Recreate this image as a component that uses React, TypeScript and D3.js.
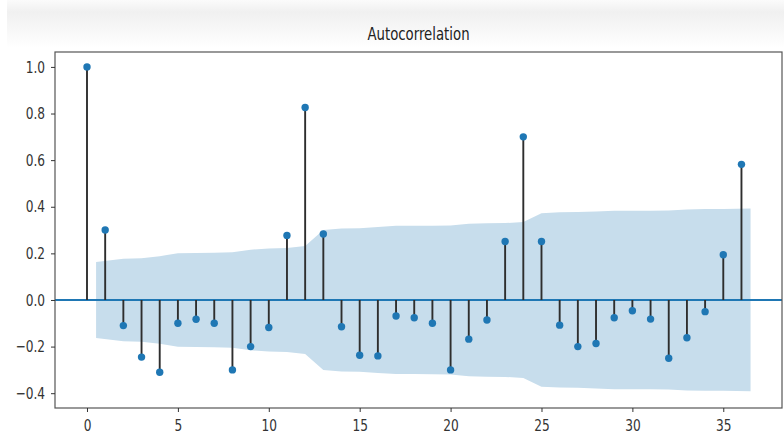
import React, { useRef, useEffect } from 'react';
import * as d3 from 'd3';

// autocorrelation at lags 0..36
const acfValues = [
  1.0, 0.3, -0.11, -0.245, -0.31, -0.1, -0.083, -0.1, -0.3, -0.2, -0.118, 0.277, 0.826,
  0.283, -0.115, -0.237, -0.24, -0.069, -0.076, -0.1, -0.3, -0.168, -0.086, 0.251, 0.7,
  0.251, -0.108, -0.2, -0.187, -0.076, -0.046, -0.082, -0.25, -0.162, -0.05, 0.194, 0.582,
];

// half-width of the confidence band at lags 1..36
const bandValues = [
  0.163, 0.177, 0.179, 0.188, 0.201, 0.202, 0.203, 0.205, 0.216, 0.221, 0.223, 0.232,
  0.3, 0.307, 0.308, 0.313, 0.318, 0.318, 0.319, 0.32, 0.327, 0.329, 0.33, 0.335, 0.372,
  0.376, 0.377, 0.38, 0.383, 0.383, 0.383, 0.384, 0.388, 0.39, 0.39, 0.392,
];

const xTicks = [0, 5, 10, 15, 20, 25, 30, 35];
const yTicks = [-0.4, -0.2, 0.0, 0.2, 0.4, 0.6, 0.8, 1.0];

const W = 784;
const H = 441;
const SQUEEZE = 0.76;

const App = () => {
  const svgRef = useRef<SVGSVGElement>(null);

  useEffect(() => {
    const svg = d3.select(svgRef.current);
    svg.selectAll('*').remove();

    const left = 55;
    const right = 782;
    const top = 52;
    const bottom = 408;

    const x = d3.scaleLinear().domain([-1.76, 38.23]).range([left, right]);
    const y = d3.scaleLinear().domain([-0.4635, 1.064]).range([bottom, top]);

    // faint grey strip at top of the screenshot
    const grad = svg
      .append('defs')
      .append('linearGradient')
      .attr('id', 'topfade')
      .attr('x1', 0)
      .attr('y1', 0)
      .attr('x2', 0)
      .attr('y2', 1);
    grad.append('stop').attr('offset', '0%').attr('stop-color', '#fbfbfb');
    grad.append('stop').attr('offset', '25%').attr('stop-color', '#f0f0f0');
    grad.append('stop').attr('offset', '100%').attr('stop-color', '#ffffff');
    svg
      .append('rect')
      .attr('x', 7)
      .attr('y', 0)
      .attr('width', W - 7)
      .attr('height', 48)
      .attr('fill', 'url(#topfade)');

    // confidence band
    const band = bandValues.map((v, i) => {
      let lag = i + 1;
      if (i === 0) lag -= 0.5;
      if (i === bandValues.length - 1) lag += 0.5;
      return { lag, v };
    });
    const area = d3
      .area<{ lag: number; v: number }>()
      .x((d) => x(d.lag))
      .y0((d) => y(-d.v))
      .y1((d) => y(d.v));
    svg.append('path').datum(band).attr('fill', '#c7ddec').attr('d', area);

    // zero line
    svg
      .append('line')
      .attr('x1', left)
      .attr('x2', right)
      .attr('y1', y(0))
      .attr('y2', y(0))
      .attr('stroke', '#1f77b4')
      .attr('stroke-width', 2);

    // stems
    svg
      .append('g')
      .selectAll('line')
      .data(acfValues)
      .join('line')
      .attr('x1', (d, i) => x(i))
      .attr('x2', (d, i) => x(i))
      .attr('y1', y(0))
      .attr('y2', (d) => y(d))
      .attr('stroke', '#2e2e2e')
      .attr('stroke-width', 1.9);

    svg
      .append('g')
      .selectAll('circle')
      .data(acfValues)
      .join('circle')
      .attr('cx', (d, i) => x(i))
      .attr('cy', (d) => y(d))
      .attr('r', 3.7)
      .attr('fill', '#1f77b4');

    // frame
    svg
      .append('rect')
      .attr('x', left)
      .attr('y', top)
      .attr('width', right - left)
      .attr('height', bottom - top)
      .attr('fill', 'none')
      .attr('stroke', '#555')
      .attr('stroke-width', 1.2);

    const xAxis = svg
      .append('g')
      .attr('transform', `translate(0,${bottom})`)
      .call(d3.axisBottom(x).tickValues(xTicks).tickSize(4).tickFormat(d3.format('d')));
    xAxis.select('.domain').remove();
    xAxis.selectAll('line').attr('stroke', '#333');
    xAxis
      .selectAll('text')
      .attr('y', 12)
      .attr('transform', `scale(${SQUEEZE},1)`)
      .attr('fill', '#333')
      .style('font-family', 'DejaVu Sans')
      .style('font-size', '16px');

    const yAxis = svg
      .append('g')
      .attr('transform', `translate(${left},0)`)
      .call(d3.axisLeft(y).tickValues(yTicks).tickSize(4).tickFormat(d3.format('.1f')));
    yAxis.select('.domain').remove();
    yAxis.selectAll('line').attr('stroke', '#333');
    yAxis
      .selectAll('text')
      .attr('x', -10 / SQUEEZE)
      .attr('transform', `scale(${SQUEEZE},1)`)
      .attr('fill', '#333')
      .style('font-family', 'DejaVu Sans')
      .style('font-size', '16px');

    const cx = (left + right) / 2;
    svg
      .append('text')
      .attr('transform', `translate(${cx},40) scale(${SQUEEZE},1)`)
      .attr('text-anchor', 'middle')
      .attr('fill', '#222')
      .style('font-family', 'DejaVu Sans')
      .style('font-size', '17.5px')
      .text('Autocorrelation');
  }, []);

  return (
    <svg
      ref={svgRef}
      width={W}
      height={H}
      style={{ position: 'absolute', left: 0, top: 0, background: '#fff', display: 'block' }}
    />
  );
};

export default App;
